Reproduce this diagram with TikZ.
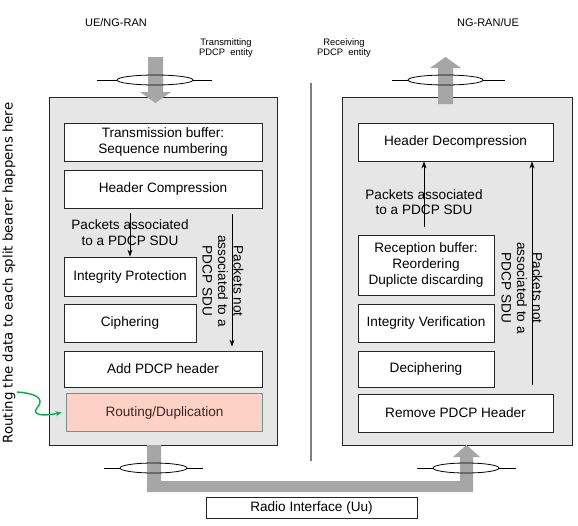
\documentclass[tikz,border=0pt]{standalone}
\usepackage{fontspec}
\setmainfont{Liberation Sans}
\newfontfamily\dejavu{DejaVu Sans}
\usetikzlibrary{arrows.meta}
\definecolor{boxgray}{HTML}{E6E6E6}
\definecolor{fatgray}{HTML}{A6A6A6}
\definecolor{pinkfill}{HTML}{FDD1C5}
\definecolor{tealedge}{HTML}{6F9393}
\definecolor{grn}{HTML}{00B050}
\definecolor{divgray}{HTML}{808080}
\definecolor{routetext}{HTML}{3A2A26}
\begin{document}
\begin{tikzpicture}[x=1pt,y=-1pt,
  mainfs/.style={font=\fontsize{13.6}{15.6}\selectfont},
  outerbox/.style={draw=black!85, line width=0.9pt, fill=boxgray, inner sep=0pt},
  procbox/.style={draw=black!85, line width=0.8pt, fill=white, inner sep=0pt, align=center, mainfs},
  routebox/.style={draw=tealedge, line width=1.8pt, fill=pinkfill, inner sep=0pt, align=center, mainfs, text=routetext},
  plainlbl/.style={inner sep=0pt, align=center, mainfs},
  headlbl/.style={inner sep=0pt, align=center, font=\fontsize{11}{13}\selectfont},
  smalllbl/.style={inner sep=0pt, align=center, font=\fontsize{9.4}{10.6}\selectfont},
  arr/.style={line width=0.8pt, -{Stealth[length=7pt,width=5pt]}},
  fat/.style={fill=fatgray, draw=none},
  ring/.style={line width=0.8pt, draw=black}
]
\useasboundingbox (0,0) rectangle (578,525);

% outer entity boxes
\node[outerbox, minimum width=228, minimum height=348] (L) at (163,271) {};
\node[outerbox, minimum width=230, minimum height=348] (R) at (457,271) {};

% divider
\draw[divgray, line width=1.4pt] (311,83) -- (311,461);

% fat grey arrows
\fill[fatgray] (148,57) -- (163,57) -- (163,92) -- (171,92) -- (155.5,103) -- (140,92) -- (148,92) -- cycle;
\fill[fatgray] (438,104) -- (453,104) -- (453,68) -- (461,68) -- (445.5,57) -- (430,68) -- (438,68) -- cycle;
\fill[fatgray] (147,445) -- (161,445) -- (161,481) -- (460,481) -- (460,457) -- (453,457)
   -- (466.5,445) -- (480,457) -- (473,457) -- (473,492) -- (147,492) -- cycle;

% rings (SAP markers)
\draw[ring] (97,80) -- (117,80);
\draw[ring] (155,80) ellipse [x radius=38, y radius=5];
\draw[ring] (193,80) -- (212,80);
\draw[ring] (392,80) -- (408,80);
\draw[ring] (445.5,80) ellipse [x radius=37.5, y radius=5];
\draw[ring] (483,80) -- (505,80);
\draw[ring] (104,468) -- (120,468);
\draw[ring] (153.5,468) ellipse [x radius=33.5, y radius=5];
\draw[ring] (187,468) -- (203,468);
\draw[ring] (417,468) -- (433,468);
\draw[ring] (466,468) ellipse [x radius=33, y radius=5];
\draw[ring] (499,468) -- (516,468);

% header labels
\node[headlbl] (ue) at (116,23) {UE/NG-RAN};
\node[headlbl] (ng) at (488,23) {NG-RAN/UE};
\node[smalllbl] (tx) at (226,48) {Transmitting\\PDCP\ \ entity};
\node[smalllbl] (rx) at (344,48) {Receiving\\PDCP\ \ entity};

% transmitting side
\node[procbox, minimum width=198, minimum height=38] (tb) at (163,142) {Transmission buffer:\\Sequence numbering};
\node[procbox, minimum width=198, minimum height=38] (hc) at (163,189) {Header Compression};
\node[procbox, minimum width=132, minimum height=39] (ip) at (130,276.5) {Integrity Protection};
\node[procbox, minimum width=132, minimum height=38] (ci) at (130,323) {Ciphering};
\node[procbox, minimum width=198, minimum height=36] (ap) at (163,369) {Add PDCP header};
\node[routebox, minimum width=196, minimum height=38] (rd) at (164.5,412.5) {Routing/Duplication};

\node[plainlbl] (pa1) at (130,232.5) {Packets associated\\to a PDCP SDU};
\node[plainlbl, rotate=-90] (pn1) at (223,281) {Packets not\\associated to a\\PDCP SDU};
\draw[arr] ([yshift=-5pt]hc.south -| ip.north) -- (ip.north);
\draw[arr] ([xshift=69pt,yshift=-6pt]hc.south) -- ([xshift=69pt,yshift=4pt]ap.north);

% receiving side
\node[procbox, minimum width=195, minimum height=38] (hd) at (455.5,142) {Header Decompression};
\node[procbox, minimum width=136, minimum height=60] (rb) at (426,265) {Reception buffer:\\Reordering\\Duplicte discarding};
\node[procbox, minimum width=136, minimum height=38] (iv) at (426,323) {Integrity Verification};
\node[procbox, minimum width=136, minimum height=36] (de) at (426,369) {Deciphering};
\node[procbox, minimum width=195, minimum height=38] (rp) at (455.5,413) {Remove PDCP Header};

\node[plainlbl] (pa2) at (424,202) {Packets associated\\to a PDCP SDU};
\node[plainlbl, rotate=-90] (pn2) at (522,288) {Packets not\\associated to a\\PDCP SDU};
\draw[arr] ([xshift=-2pt,yshift=8pt]rb.north) -- ([xshift=-2pt]rb.north |- hd.south);
\draw[arr] ([xshift=76.5pt,yshift=9pt]rp.north) -- ([xshift=76.5pt]hd.south);

% radio interface
\node[procbox, minimum width=211, minimum height=21] (radio) at (311.5,507.5) {Radio Interface (Uu)};

% side annotation
\node[inner sep=0pt, rotate=90, font=\dejavu\fontsize{13.3}{15}\selectfont] (side) at (9,273) {Routing the data to each split bearer happens here};
\coordinate (gs) at (17,392);
\draw[grn, line width=1.4pt, -{Stealth[length=6pt,width=5pt]}] (gs) .. controls (44,394) and (42,402) .. (37,408)
   .. controls (32,414) and (40,417) .. ([xshift=-4pt]rd.west);
\end{tikzpicture}
\end{document}
